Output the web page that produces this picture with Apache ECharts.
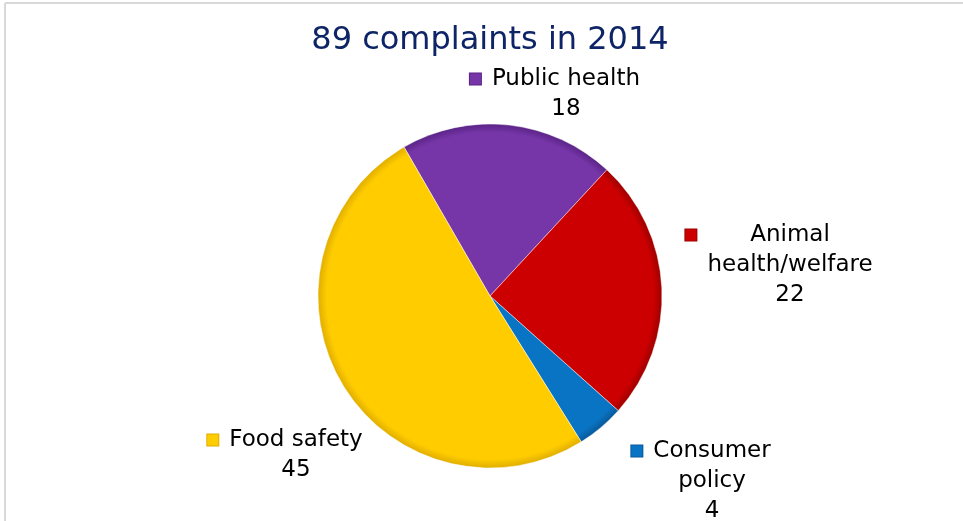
<!DOCTYPE html>
<html>
<head>
<meta charset="utf-8">
<script src="https://cdn.jsdelivr.net/npm/echarts@6/dist/echarts.min.js"></script>
<style>
html,body{margin:0;padding:0;background:#fff;}
#chart{width:963px;height:521px;}
</style>
</head>
<body>
<div id="chart"></div>
<script>
// ---- data ----
var titleText = '89 complaints in 2014';
var categories = ['Public health', 'Animal health/welfare', 'Consumer policy', 'Food safety'];
var labelLines = [['Public health'], ['Animal', 'health/welfare'], ['Consumer', 'policy'], ['Food safety']];
var values = [18, 22, 4, 45];

// ---- styles ----
var colors = ['#7636A8', '#CC0000', '#0A74C4', '#FFCC00'];
var darkColors = ['#5A2386', '#9E0000', '#08599A', '#E0AE00'];
var labelAnchors = [[566, 94], [790, 265], [712, 481], [296, 455]];
var FONT = 'DejaVu Sans, Verdana, sans-serif';
var FS = 23;
var CX = 490, CY = 296, R = 172;

var ctx = document.createElement('canvas').getContext('2d');
ctx.font = FS + 'px DejaVu Sans';

var data = categories.map(function (name, i) {
  var lines = labelLines[i].concat([String(values[i])]);
  var W = 0;
  lines.forEach(function (l) { W = Math.max(W, ctx.measureText(l).width); });
  var fmt = '{m|}{g|}{h|' + lines[0] + '}{z|}';
  for (var k = 1; k < lines.length; k++) fmt += '\n{t|' + lines[k] + '}';
  return {
    name: name,
    value: values[i],
    itemStyle: {
      color: {
        type: 'radial', x: CX, y: CY, r: R, global: true,
        colorStops: [
          { offset: 0, color: colors[i] },
          { offset: 0.95, color: colors[i] },
          { offset: 1, color: darkColors[i] }
        ]
      },
      borderColor: 'rgba(255,255,255,0.45)',
      borderWidth: 1
    },
    label: {
      formatter: fmt,
      rich: {
        m: { width: 11, height: 11, backgroundColor: colors[i], borderColor: darkColors[i], borderWidth: 1 },
        g: { width: 11 },
        h: { width: W, align: 'center', fontSize: FS, fontFamily: FONT, color: '#000', lineHeight: 30 },
        z: { width: 22 },
        t: { fontSize: FS, fontFamily: FONT, color: '#000', lineHeight: 30 }
      }
    }
  };
});

var chart = echarts.init(document.getElementById('chart'), null, { renderer: 'canvas' });
chart.setOption({
  backgroundColor: '#fff',
  animation: false,
  title: {
    text: titleText,
    left: 485, top: 20, textAlign: 'center',
    textStyle: { fontFamily: FONT, fontSize: 32, fontWeight: 'normal', color: '#0D2466' }
  },
  graphic: [
    { type: 'line', shape: { x1: 5, y1: 3, x2: 963, y2: 3 }, style: { stroke: '#d9d9d9', lineWidth: 2 } },
    { type: 'line', shape: { x1: 5, y1: 3, x2: 5, y2: 521 }, style: { stroke: '#d9d9d9', lineWidth: 2 } }
  ],
  series: [{
    type: 'pie',
    center: [CX, CY],
    radius: [0, R],
    startAngle: 120,
    clockwise: true,
    avoidLabelOverlap: false,
    labelLine: { show: false },
    label: {
      show: true,
      position: 'outside',
      fontFamily: FONT,
      fontSize: FS,
      color: '#000',
      lineHeight: 30,
      align: 'center'
    },
    labelLayout: function (params) {
      var a = labelAnchors[params.dataIndex];
      return { x: a[0], y: a[1], align: 'center', verticalAlign: 'middle', hideOverlap: false };
    },
    emphasis: { disabled: true },
    data: data
  }]
});
</script>
</body>
</html>
